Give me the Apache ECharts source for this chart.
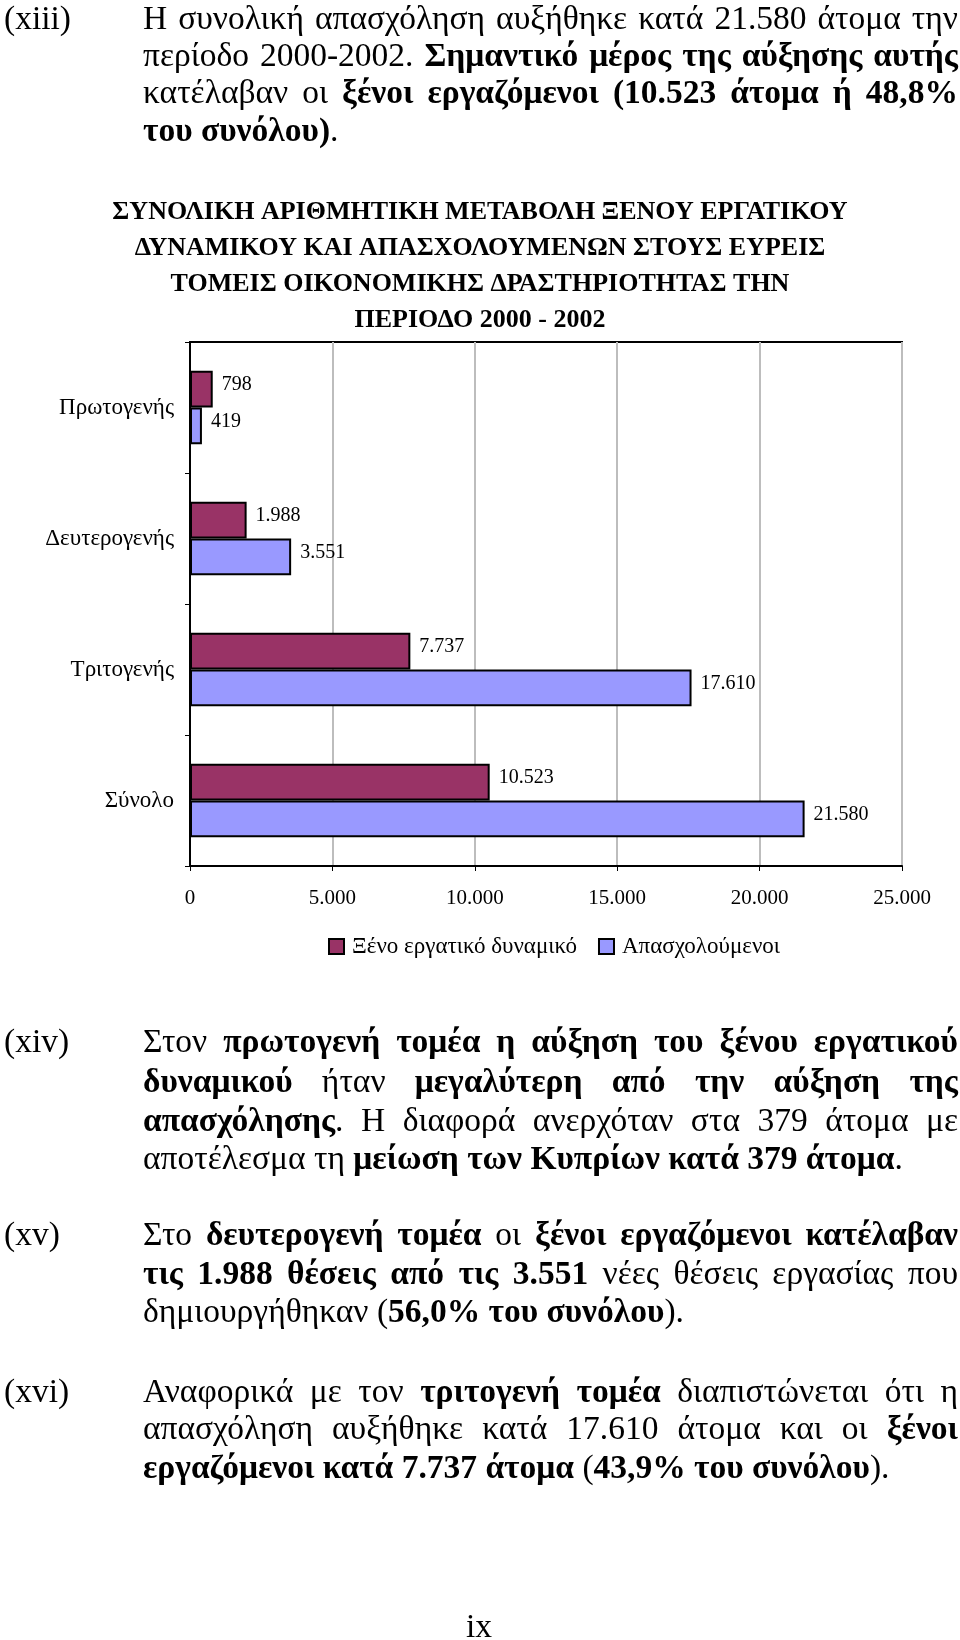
<!DOCTYPE html>
<html>
<head>
<meta charset="utf-8">
<script src="https://cdn.jsdelivr.net/npm/echarts@6/dist/echarts.min.js"></script>
<style>
  html, body { margin: 0; padding: 0; background: #fff; }
  #page { position: relative; width: 960px; height: 1640px; overflow: hidden; background: #fff; }
  #chart { position: absolute; left: 0; top: 0; width: 960px; height: 1640px; }
  .ln { position: absolute; white-space: nowrap; font-family: "Liberation Serif", "Times New Roman", serif;
        font-size: 33.5px; line-height: 38px; height: 38px; color: #000; z-index: 2; }
  .ln b { font-weight: bold; }
</style>
</head>
<body>
<div id="page">
  <div id="chart"></div>
</div>
<script>
// ---- Data ----
const categories = ['Πρωτογενής', 'Δευτερογενής', 'Τριτογενής', 'Σύνολο'];
const seriesNames = ['Ξένο εργατικό δυναμικό', 'Απασχολούμενοι'];
const foreignWorkers = [798, 1988, 7737, 10523];
const employed = [419, 3551, 17610, 21580];
const xTickLabels = ['0', '5.000', '10.000', '15.000', '20.000', '25.000'];
const titleLines = [
  'ΣΥΝΟΛΙΚΗ ΑΡΙΘΜΗΤΙΚΗ ΜΕΤΑΒΟΛΗ ΞΕΝΟΥ ΕΡΓΑΤΙΚΟΥ',
  'ΔΥΝΑΜΙΚΟΥ ΚΑΙ ΑΠΑΣΧΟΛΟΥΜΕΝΩΝ ΣΤΟΥΣ ΕΥΡΕΙΣ',
  'ΤΟΜΕΙΣ ΟΙΚΟΝΟΜΙΚΗΣ ΔΡΑΣΤΗΡΙΟΤΗΤΑΣ ΤΗΝ',
  'ΠΕΡΙΟΔΟ 2000 - 2002'
];

// ---- Page prose (text, y centre, justified?) ----
const proseLabels = [
  ['(xiii)', 18], ['(xiv)', 1041], ['(xv)', 1234], ['(xvi)', 1391]
];
const proseLines = [
  ['Η συνολική απασχόληση αυξήθηκε κατά 21.580 άτομα την', 18, true],
  ['περίοδο 2000-2002. <b>Σημαντικό μέρος της αύξησης αυτής</b>', 55, true],
  ['κατέλαβαν οι <b>ξένοι εργαζόμενοι (10.523 άτομα ή 48,8%</b>', 92, true],
  ['<b>του συνόλου)</b>.', 130, false],
  ['Στον <b>πρωτογενή τομέα η αύξηση του ξένου εργατικού</b>', 1041, true],
  ['<b>δυναμικού</b> ήταν <b>μεγαλύτερη από την αύξηση της</b>', 1081, true],
  ['<b>απασχόλησης</b>. Η διαφορά ανερχόταν στα 379 άτομα με', 1120, true],
  ['αποτέλεσμα τη <b>μείωση των Κυπρίων κατά 379 άτομα</b>.', 1158, false],
  ['Στο <b>δευτερογενή τομέα</b> οι <b>ξένοι εργαζόμενοι κατέλαβαν</b>', 1234, true],
  ['<b>τις 1.988 θέσεις από τις 3.551</b> νέες θέσεις εργασίας που', 1273, true],
  ['δημιουργήθηκαν (<b>56,0% του συνόλου</b>).', 1311, false],
  ['Αναφορικά με τον <b>τριτογενή τομέα</b> διαπιστώνεται ότι η', 1391, true],
  ['απασχόληση αυξήθηκε κατά 17.610 άτομα και οι <b>ξένοι</b>', 1428, true],
  ['<b>εργαζόμενοι κατά 7.737 άτομα</b> (<b>43,9% του συνόλου</b>).', 1467, false]
];
const footerText = 'ix';

const page = document.getElementById('page');
const TEXT_LEFT = 143, TEXT_WIDTH = 815;
proseLabels.forEach(([t, cy]) => {
  const d = document.createElement('div');
  d.className = 'ln';
  d.style.left = '4px';
  d.style.top = (cy - 19) + 'px';
  d.textContent = t;
  page.appendChild(d);
});
proseLines.forEach(([html, cy, just]) => {
  const d = document.createElement('div');
  d.className = 'ln';
  d.style.left = TEXT_LEFT + 'px';
  d.style.top = (cy - 19) + 'px';
  const s = document.createElement('span');
  s.innerHTML = html;
  d.appendChild(s);
  page.appendChild(d);
  const w = s.getBoundingClientRect().width;
  const nSpaces = (s.textContent.match(/ /g) || []).length;
  if ((just || w > TEXT_WIDTH) && nSpaces > 0) {
    s.style.wordSpacing = ((TEXT_WIDTH - w) / nSpaces) + 'px';
  }
});
(function () {
  const d = document.createElement('div');
  d.className = 'ln';
  d.style.left = '0px';
  d.style.width = '958px';
  d.style.textAlign = 'center';
  d.style.top = (1626 - 19) + 'px';
  d.textContent = footerText;
  page.appendChild(d);
})();

// ---- Chart ----
const fmt = v => String(v).replace(/\B(?=(\d{3})+(?!\d))/g, '.');
const serif = '"Liberation Serif", "Times New Roman", serif';
const chart = echarts.init(document.getElementById('chart'), null, { renderer: 'canvas' });

const labelCfg = {
  show: true, position: 'right', distance: 9, offset: [0, -4],
  color: '#000', fontFamily: serif, fontSize: 20,
  formatter: p => fmt(p.value)
};

chart.setOption({
  animation: false,
  backgroundColor: 'transparent',
  title: {
    text: titleLines.join('\n'),
    left: 'center', top: 189,
    textStyle: { fontFamily: serif, fontSize: 26, fontWeight: 'bold', color: '#000', lineHeight: 36 }
  },
  legend: {
    data: seriesNames,
    left: 323, top: 930,
    icon: 'rect', itemWidth: 15, itemHeight: 15, itemGap: 21,
    textStyle: { fontFamily: serif, fontSize: 23, color: '#000', padding: [0, 0, 0, 3] }
  },
  grid: {
    left: 190, top: 342, width: 712, height: 524,
    show: true, borderColor: '#000', borderWidth: 2, backgroundColor: 'transparent',
    containLabel: false
  },
  xAxis: {
    type: 'value', min: 0, max: 25000, interval: 5000,
    axisLine: { show: true, lineStyle: { color: '#000', width: 2 } },
    axisTick: { show: true, length: 5, lineStyle: { color: '#000', width: 1 } },
    splitLine: { show: true, lineStyle: { color: '#bdbdbd', width: 2 } },
    axisLabel: {
      margin: 22, color: '#000', fontFamily: serif, fontSize: 21,
      formatter: v => xTickLabels[Math.round(v / 5000)]
    }
  },
  yAxis: {
    type: 'category', data: categories, inverse: true,
    axisLine: { show: true, lineStyle: { color: '#000', width: 2 } },
    axisTick: { show: true, length: 5, lineStyle: { color: '#000', width: 1 } },
    splitLine: { show: false },
    axisLabel: { margin: 16, color: '#000', fontFamily: serif, fontSize: 23 }
  },
  series: [
    {
      name: seriesNames[0], type: 'bar', data: foreignWorkers,
      barGap: '0%', barCategoryGap: '44%',
      itemStyle: { color: '#993366', borderColor: '#000', borderWidth: 2 },
      label: labelCfg
    },
    {
      name: seriesNames[1], type: 'bar', data: employed,
      barGap: '0%', barCategoryGap: '44%',
      itemStyle: { color: '#9999ff', borderColor: '#000', borderWidth: 2 },
      label: labelCfg
    }
  ]
});
</script>
</body>
</html>
